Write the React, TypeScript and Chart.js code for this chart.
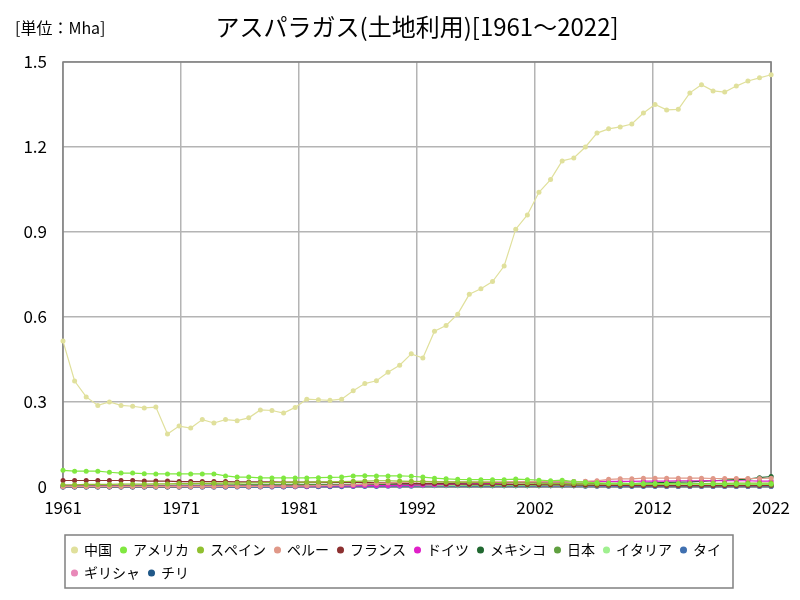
import React, { useEffect, useRef } from 'react';
import { Chart, registerables } from 'chart.js';

Chart.register(...registerables);

const titleText = 'アスパラガス(土地利用)[1961～2022]';
const unitText = '[単位：Mha]';

const years = [
  1961, 1962, 1963, 1964, 1965, 1966, 1967, 1968, 1969, 1970,
  1971, 1972, 1973, 1974, 1975, 1976, 1977, 1978, 1979, 1980,
  1981, 1982, 1983, 1984, 1985, 1986, 1987, 1988, 1989, 1990,
  1991, 1992, 1993, 1994, 1995, 1996, 1997, 1998, 1999, 2000,
  2001, 2002, 2003, 2004, 2005, 2006, 2007, 2008, 2009, 2010,
  2011, 2012, 2013, 2014, 2015, 2016, 2017, 2018, 2019, 2020,
  2021, 2022,
];

const xTickLabels = ['1961', '1971', '1981', '1992', '2002', '2012', '2022'];
const yTickValues = [0, 0.3, 0.6, 0.9, 1.2, 1.5];

const china = [
  0.515, 0.374, 0.318, 0.288, 0.300, 0.288, 0.285, 0.279, 0.282, 0.187,
  0.215, 0.208, 0.238, 0.226, 0.238, 0.234, 0.244, 0.272, 0.270, 0.261,
  0.281, 0.310, 0.308, 0.306, 0.310, 0.340, 0.365, 0.375, 0.405, 0.430,
  0.470, 0.455, 0.550, 0.570, 0.610, 0.680, 0.700, 0.725, 0.780, 0.910,
  0.960, 1.040, 1.085, 1.151, 1.161, 1.200, 1.249, 1.264, 1.271, 1.281,
  1.320, 1.350, 1.331, 1.333, 1.391, 1.420, 1.398, 1.394, 1.415, 1.433,
  1.444, 1.455,
];
const usa = [
  0.059, 0.056, 0.056, 0.056, 0.052, 0.049, 0.049, 0.047, 0.046, 0.046,
  0.046, 0.046, 0.046, 0.046, 0.039, 0.035, 0.035, 0.032, 0.032, 0.032,
  0.032, 0.032, 0.033, 0.034, 0.035, 0.039, 0.040, 0.039, 0.039, 0.039,
  0.038, 0.035, 0.031, 0.029, 0.027, 0.026, 0.026, 0.026, 0.026, 0.028,
  0.026, 0.024, 0.022, 0.024, 0.019, 0.017, 0.015, 0.013, 0.013, 0.012,
  0.012, 0.012, 0.012, 0.012, 0.011, 0.011, 0.011, 0.010, 0.010, 0.010,
  0.010, 0.010,
];
const spain = [
  0.008, 0.008, 0.009, 0.009, 0.009, 0.010, 0.010, 0.010, 0.011, 0.011,
  0.012, 0.012, 0.013, 0.013, 0.014, 0.014, 0.015, 0.015, 0.016, 0.016,
  0.017, 0.017, 0.018, 0.018, 0.019, 0.020, 0.021, 0.022, 0.022, 0.021,
  0.020, 0.019, 0.018, 0.018, 0.017, 0.017, 0.016, 0.016, 0.015, 0.015,
  0.014, 0.014, 0.013, 0.013, 0.012, 0.012, 0.011, 0.011, 0.011, 0.010,
  0.010, 0.010, 0.011, 0.011, 0.012, 0.012, 0.013, 0.013, 0.014, 0.014,
  0.014, 0.014,
];
const peru = [
  0.001, 0.001, 0.001, 0.001, 0.001, 0.001, 0.001, 0.001, 0.001, 0.001,
  0.001, 0.001, 0.001, 0.001, 0.002, 0.002, 0.002, 0.002, 0.003, 0.003,
  0.003, 0.004, 0.005, 0.006, 0.007, 0.008, 0.010, 0.012, 0.014, 0.016,
  0.018, 0.020, 0.019, 0.018, 0.018, 0.018, 0.018, 0.018, 0.018, 0.019,
  0.019, 0.019, 0.018, 0.018, 0.019, 0.020, 0.022, 0.027, 0.029, 0.029,
  0.031, 0.031, 0.031, 0.031, 0.031, 0.031, 0.030, 0.030, 0.030, 0.030,
  0.030, 0.031,
];
const france = [
  0.023, 0.023, 0.023, 0.023, 0.023, 0.023, 0.023, 0.021, 0.021, 0.021,
  0.019, 0.019, 0.019, 0.019, 0.019, 0.018, 0.018, 0.018, 0.018, 0.017,
  0.017, 0.017, 0.017, 0.016, 0.016, 0.016, 0.016, 0.015, 0.015, 0.014,
  0.013, 0.012, 0.012, 0.011, 0.011, 0.010, 0.010, 0.010, 0.009, 0.009,
  0.009, 0.008, 0.008, 0.008, 0.007, 0.007, 0.006, 0.006, 0.006, 0.005,
  0.005, 0.005, 0.005, 0.005, 0.005, 0.005, 0.005, 0.005, 0.005, 0.005,
  0.005, 0.006,
];
const germany = [
  0.003, 0.003, 0.003, 0.003, 0.003, 0.003, 0.003, 0.003, 0.003, 0.003,
  0.003, 0.003, 0.003, 0.003, 0.003, 0.003, 0.003, 0.003, 0.003, 0.003,
  0.003, 0.003, 0.004, 0.004, 0.004, 0.004, 0.005, 0.005, 0.005, 0.006,
  0.006, 0.007, 0.008, 0.009, 0.010, 0.011, 0.012, 0.013, 0.014, 0.015,
  0.016, 0.017, 0.018, 0.018, 0.019, 0.019, 0.020, 0.020, 0.020, 0.020,
  0.021, 0.021, 0.021, 0.022, 0.022, 0.022, 0.023, 0.022, 0.022, 0.022,
  0.021, 0.021,
];
const mexico = [
  0.001, 0.001, 0.001, 0.001, 0.001, 0.001, 0.001, 0.001, 0.001, 0.001,
  0.001, 0.002, 0.002, 0.002, 0.003, 0.003, 0.003, 0.004, 0.004, 0.005,
  0.005, 0.006, 0.006, 0.007, 0.008, 0.008, 0.009, 0.010, 0.011, 0.011,
  0.012, 0.012, 0.013, 0.013, 0.014, 0.014, 0.015, 0.015, 0.016, 0.016,
  0.016, 0.015, 0.014, 0.014, 0.013, 0.013, 0.012, 0.013, 0.013, 0.012,
  0.014, 0.015, 0.016, 0.017, 0.018, 0.020, 0.022, 0.024, 0.026, 0.028,
  0.033, 0.037,
];
const japan = [
  0.004, 0.004, 0.004, 0.005, 0.005, 0.005, 0.005, 0.006, 0.006, 0.006,
  0.007, 0.007, 0.007, 0.008, 0.008, 0.008, 0.009, 0.009, 0.009, 0.009,
  0.009, 0.009, 0.009, 0.009, 0.009, 0.009, 0.009, 0.009, 0.009, 0.008,
  0.008, 0.008, 0.008, 0.008, 0.008, 0.007, 0.007, 0.007, 0.007, 0.007,
  0.007, 0.007, 0.007, 0.007, 0.007, 0.006, 0.006, 0.006, 0.006, 0.006,
  0.006, 0.006, 0.006, 0.005, 0.005, 0.005, 0.005, 0.005, 0.005, 0.005,
  0.005, 0.005,
];
const italy = [
  0.005, 0.005, 0.005, 0.005, 0.005, 0.005, 0.005, 0.005, 0.005, 0.005,
  0.005, 0.005, 0.005, 0.005, 0.006, 0.006, 0.006, 0.006, 0.006, 0.006,
  0.006, 0.006, 0.006, 0.006, 0.006, 0.006, 0.006, 0.006, 0.006, 0.006,
  0.006, 0.006, 0.006, 0.006, 0.006, 0.006, 0.006, 0.006, 0.006, 0.006,
  0.006, 0.006, 0.006, 0.006, 0.006, 0.006, 0.006, 0.007, 0.007, 0.007,
  0.007, 0.007, 0.007, 0.007, 0.007, 0.008, 0.008, 0.008, 0.008, 0.008,
  0.008, 0.008,
];
const thailand = [
  0.000, 0.000, 0.000, 0.000, 0.000, 0.000, 0.000, 0.000, 0.000, 0.000,
  0.000, 0.000, 0.000, 0.000, 0.000, 0.000, 0.000, 0.000, 0.000, 0.000,
  0.001, 0.001, 0.001, 0.001, 0.001, 0.002, 0.002, 0.002, 0.003, 0.003,
  0.003, 0.004, 0.004, 0.004, 0.004, 0.004, 0.004, 0.004, 0.004, 0.004,
  0.004, 0.004, 0.004, 0.004, 0.004, 0.004, 0.004, 0.004, 0.003, 0.003,
  0.003, 0.003, 0.003, 0.003, 0.003, 0.003, 0.003, 0.003, 0.003, 0.003,
  0.003, 0.003,
];
const greece = [
  0.001, 0.001, 0.001, 0.001, 0.001, 0.001, 0.001, 0.001, 0.001, 0.001,
  0.001, 0.001, 0.001, 0.001, 0.001, 0.002, 0.002, 0.002, 0.002, 0.002,
  0.002, 0.002, 0.002, 0.003, 0.003, 0.003, 0.004, 0.004, 0.005, 0.005,
  0.005, 0.006, 0.006, 0.006, 0.006, 0.006, 0.006, 0.005, 0.005, 0.005,
  0.005, 0.005, 0.004, 0.004, 0.004, 0.004, 0.004, 0.004, 0.004, 0.004,
  0.004, 0.004, 0.003, 0.003, 0.003, 0.003, 0.003, 0.003, 0.003, 0.003,
  0.003, 0.003,
];
const chile = [
  0.000, 0.000, 0.000, 0.000, 0.000, 0.000, 0.000, 0.000, 0.000, 0.000,
  0.000, 0.000, 0.000, 0.000, 0.000, 0.001, 0.001, 0.001, 0.001, 0.001,
  0.001, 0.002, 0.002, 0.003, 0.004, 0.005, 0.006, 0.006, 0.007, 0.007,
  0.007, 0.006, 0.006, 0.005, 0.005, 0.005, 0.005, 0.004, 0.004, 0.004,
  0.004, 0.004, 0.004, 0.004, 0.004, 0.003, 0.003, 0.003, 0.003, 0.003,
  0.003, 0.003, 0.002, 0.002, 0.002, 0.002, 0.002, 0.002, 0.002, 0.002,
  0.002, 0.002,
];

const seriesNames = ['中国', 'アメリカ', 'スペイン', 'ペルー', 'フランス', 'ドイツ', 'メキシコ', '日本', 'イタリア', 'タイ', 'ギリシャ', 'チリ'];
const seriesValues = [china, usa, spain, peru, france, germany, mexico, japan, italy, thailand, greece, chile];
const seriesColors = ['#e0e09c', '#80e840', '#90c030', '#e09888', '#8c3030', '#e020c8', '#206830', '#60a040', '#a0f090', '#4070b0', '#e888b8', '#205888'];

const FONT = '"Noto Sans CJK JP", "Noto Sans", sans-serif';

const decorPlugin = {
  id: 'decor',
  beforeDraw(chart: any) {
    const { ctx } = chart;
    ctx.save();
    ctx.fillStyle = '#ffffff';
    ctx.fillRect(0, 0, chart.width, chart.height);
    ctx.restore();
  },
  beforeDatasetsDraw(chart: any) {
    const { ctx, chartArea: a } = chart;
    ctx.save();
    ctx.strokeStyle = '#808080';
    ctx.lineWidth = 1.5;
    ctx.strokeRect(a.left, a.top, a.right - a.left, a.bottom - a.top);
    ctx.restore();
  },
  afterDraw(chart: any) {
    const { ctx, chartArea: a } = chart;
    ctx.save();
    ctx.fillStyle = '#000000';
    ctx.textBaseline = 'middle';
    ctx.font = `24px ${FONT}`;
    ctx.textAlign = 'center';
    ctx.fillText(titleText, (a.left + a.right) / 2, 27);
    ctx.font = `16px ${FONT}`;
    ctx.textAlign = 'left';
    ctx.fillText(unitText, 15, 28);
    const lg = chart.legend;
    if (lg && lg.legendHitBoxes && lg.legendHitBoxes.length) {
      const hb = lg.legendHitBoxes;
      let l = Infinity, r = -Infinity, t = Infinity, b = -Infinity;
      for (const h of hb) {
        l = Math.min(l, h.left);
        r = Math.max(r, h.left + h.width);
        t = Math.min(t, h.top);
        b = Math.max(b, h.top + h.height);
      }
      ctx.strokeStyle = '#808080';
      ctx.lineWidth = 1.5;
      ctx.strokeRect(l - 7, t - 8, r - l + 19, b - t + 16);
    }
    ctx.restore();
  },
};

export default function App() {
  const ref = useRef<HTMLCanvasElement | null>(null);
  useEffect(() => {
    if (!ref.current) return;
    const datasets = seriesNames.map((name, i) => ({
      label: name,
      data: years.map((y, j) => ({ x: y, y: seriesValues[i][j] })),
      borderColor: seriesColors[i],
      backgroundColor: seriesColors[i],
      pointBackgroundColor: seriesColors[i],
      pointBorderColor: seriesColors[i],
      borderWidth: 1.2,
      pointRadius: 2.5,
      pointBorderWidth: 0,
      pointStyle: 'circle',
      tension: 0,
      fill: false,
      clip: 4,
    }));
    const chart = new Chart(ref.current, {
      type: 'line',
      data: { datasets },
      options: {
        animation: false,
        responsive: true,
        maintainAspectRatio: false,
        layout: { padding: { top: 62, right: 28, bottom: 10, left: 0 } },
        plugins: {
          title: { display: false },
          tooltip: { enabled: false },
          legend: {
            display: true,
            position: 'bottom',
            align: 'start',
            fullSize: false,
            labels: {
              usePointStyle: true,
              pointStyle: 'circle',
              boxWidth: 5,
              boxHeight: 5,
              padding: 9,
              color: '#000000',
              font: { family: FONT, size: 14 },
            },
          },
        },
        scales: {
          x: {
            type: 'linear',
            min: 1961,
            max: 2022,
            afterBuildTicks: (scale: any) => {
              scale.ticks = xTickLabels.map((_, i) => ({ value: 1961 + (i * 61) / 6 }));
            },
            afterFit: (scale: any) => {
              scale.height = 47;
            },
            ticks: {
              autoSkip: false,
              maxRotation: 0,
              padding: 10,
              color: '#000000',
              font: { family: FONT, size: 17 },
              callback: (_v: any, i: number) => xTickLabels[i],
            },
            grid: { color: '#b4b4b4', lineWidth: 1.5, drawTicks: false },
            border: { display: false },
          },
          y: {
            min: 0,
            max: 1.5,
            afterBuildTicks: (scale: any) => {
              scale.ticks = yTickValues.map((v) => ({ value: v }));
            },
            afterFit: (scale: any) => {
              scale.width = 63;
            },
            ticks: {
              padding: 16,
              color: '#000000',
              font: { family: FONT, size: 17 },
              callback: (v: any) => (Number(v) === 0 ? '0' : Number(v).toFixed(1)),
            },
            grid: { color: '#b4b4b4', lineWidth: 1.5, drawTicks: false },
            border: { display: false },
          },
        },
      },
      plugins: [decorPlugin],
    });
    return () => chart.destroy();
  }, []);
  return (
    <div style={{ position: 'fixed', left: 0, top: 0, width: 800, height: 600, background: '#fff' }}>
      <canvas ref={ref} />
    </div>
  );
}
